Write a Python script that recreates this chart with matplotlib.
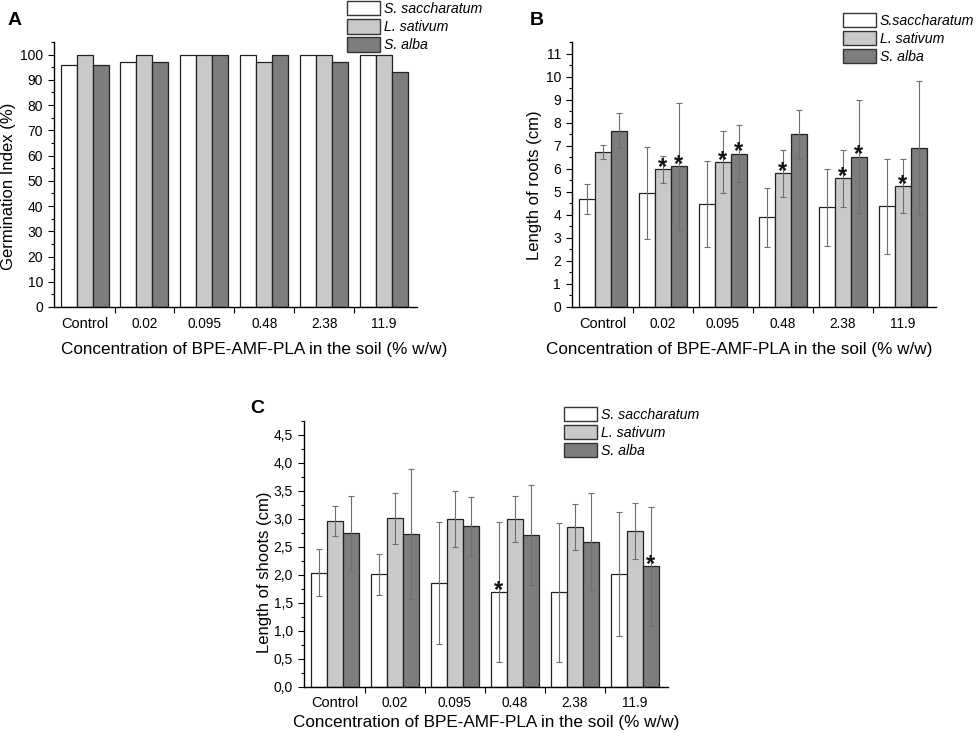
import matplotlib

matplotlib.use("Agg")

import matplotlib.pyplot as plt
import numpy as np
from matplotlib.patches import Patch
from matplotlib.ticker import FixedLocator, FuncFormatter, MultipleLocator
from matplotlib.transforms import offset_copy

plt.rcParams["font.family"] = ["Liberation Sans", "DejaVu Sans"]

groups = ["Control", "0.02", "0.095", "0.48", "2.38", "11.9"]
species = ["S. saccharatum", "L. sativum", "S. alba"]
species_b = ["S.saccharatum", "L. sativum", "S. alba"]

# A: germination index (%)
germ_ss = [96, 97, 100, 100, 100, 100]
germ_ls = [100, 100, 100, 97, 100, 100]
germ_sa = [96, 97, 100, 100, 97, 93]

# B: root length (cm) with SD
root_ss = [4.70, 4.93, 4.47, 3.89, 4.32, 4.37]
root_ss_err = [0.65, 2.00, 1.85, 1.28, 1.68, 2.07]
root_ls = [6.71, 5.97, 6.29, 5.80, 5.58, 5.25]
root_ls_err = [0.30, 0.60, 1.35, 1.03, 1.23, 1.18]
root_sa = [7.65, 6.11, 6.66, 7.49, 6.52, 6.91]
root_sa_err = [0.77, 2.75, 1.23, 1.05, 2.46, 2.89]
root_sig = [[0, 0, 0, 0, 0, 0], [0, 1, 1, 1, 1, 1], [0, 1, 1, 0, 1, 0]]

# C: shoot length (cm) with SD
shoot_ss = [2.04, 2.01, 1.85, 1.69, 1.69, 2.01]
shoot_ss_err = [0.42, 0.37, 1.09, 1.25, 1.24, 1.11]
shoot_ls = [2.96, 3.01, 3.00, 3.00, 2.86, 2.79]
shoot_ls_err = [0.27, 0.46, 0.50, 0.41, 0.41, 0.50]
shoot_sa = [2.74, 2.73, 2.87, 2.71, 2.59, 2.15]
shoot_sa_err = [0.67, 1.17, 0.53, 0.89, 0.87, 1.07]
shoot_sig = [[0, 0, 0, 1, 0, 0], [0, 0, 0, 0, 0, 0], [0, 0, 0, 0, 0, 1]]

FILLS = ["white", "#c9c9c9", "#7d7d7d"]
XLABEL = "Concentration of BPE-AMF-PLA in the soil (% w/w)"
W = 0.8 / 3


def draw_panel(ax, values, errs, sigs, ymax, major, minor, fmt):
    x = np.arange(len(groups))
    # baseline of the '*' sits a little under the bar top so the glyph floats just above it
    star_tr = offset_copy(ax.transData, fig=ax.figure, y=-4.5, units="dots")
    for i, vals in enumerate(values):
        pos = x + (i - 1) * W
        ax.bar(pos, vals, W, color=FILLS[i], edgecolor="#222222", linewidth=0.9, zorder=2)
        if errs is not None:
            ax.errorbar(pos, vals, yerr=errs[i], fmt="none", ecolor="#6e6e6e",
                        elinewidth=0.8, capsize=2.5, capthick=0.8, zorder=3)
        if sigs is not None:
            for p, v, s in zip(pos, vals, sigs[i]):
                if s:
                    ax.text(p, v, "*", transform=star_tr, ha="center", va="baseline",
                            fontsize=17, fontweight="bold", color="#111111", zorder=4)
    ax.set_xlim(-0.51, 5.55)
    ax.set_ylim(0, ymax)
    ax.spines[["top", "right"]].set_visible(False)
    for s in ("left", "bottom"):
        ax.spines[s].set_linewidth(1.0)
    ax.set_xticks(x)
    ax.set_xticklabels(groups, fontsize=9.8)
    ax.get_xticklabels()[0].set_fontsize(10.5)
    ax.xaxis.set_minor_locator(FixedLocator(np.arange(0.5, 5.0, 1.0)))
    ax.tick_params(axis="x", which="major", length=0, pad=7)
    ax.tick_params(axis="x", which="minor", length=4, width=0.8, direction="out")
    ax.yaxis.set_major_locator(MultipleLocator(major))
    ax.yaxis.set_minor_locator(MultipleLocator(minor))
    ax.yaxis.set_major_formatter(FuncFormatter(fmt))
    ax.tick_params(axis="y", which="major", length=4.5, width=0.8, labelsize=10)
    ax.tick_params(axis="y", which="minor", length=2.5, width=0.8)


def add_legend(ax, labels, anchor):
    handles = [Patch(facecolor=c, edgecolor="#333333", linewidth=1.0) for c in FILLS]
    leg = ax.legend(handles, labels, loc="upper left", bbox_to_anchor=anchor,
                    frameon=False, borderpad=0, borderaxespad=0, handlelength=2.3,
                    handleheight=1.2, labelspacing=0.22, handletextpad=0.3,
                    prop={"style": "italic", "size": 10.2})
    return leg


fig = plt.figure(figsize=(9.76, 7.33), dpi=100)
axA = fig.add_axes([54 / 976, 1 - 307 / 733, 363 / 976, 265 / 733])
axB = fig.add_axes([572 / 976, 1 - 307 / 733, 364 / 976, 265 / 733])
axC = fig.add_axes([304 / 976, 1 - 686.7 / 733, 364 / 976, 265.7 / 733])

draw_panel(axA, [germ_ss, germ_ls, germ_sa], None, None, 105, 10, 5,
           lambda v, _: f"{v:.0f}")
draw_panel(axB, [root_ss, root_ls, root_sa], [root_ss_err, root_ls_err, root_sa_err],
           root_sig, 11.5, 1, 0.5, lambda v, _: f"{v:.0f}")
draw_panel(axC, [shoot_ss, shoot_ls, shoot_sa], [shoot_ss_err, shoot_ls_err, shoot_sa_err],
           shoot_sig, 4.75, 0.5, 0.25, lambda v, _: f"{v:.1f}".replace(".", ","))

add_legend(axA, species, (0.807, 1.155))
add_legend(axB, species_b, (0.745, 1.111))
add_legend(axC, species, (0.715, 1.054))

# panel letters
for label, px, py in (("A", 8, 25), ("B", 530, 25), ("C", 250, 413)):
    fig.text(px / 976, 1 - py / 733, label, fontsize=14, fontweight="bold", va="baseline")

# axis titles
fig.text(9 / 976, 1 - 186 / 733, "Germination Index (%)", rotation=90,
         ha="center", va="center", fontsize=12)
fig.text(535 / 976, 1 - 185 / 733, "Length of roots (cm)", rotation=90,
         ha="center", va="center", fontsize=12)
fig.text(265 / 976, 1 - 572 / 733, "Length of shoots (cm)", rotation=90,
         ha="center", va="center", fontsize=12)
fig.text(254 / 976, 1 - 350 / 733, XLABEL, ha="center", va="center", fontsize=12.3)
fig.text(739 / 976, 1 - 350 / 733, XLABEL, ha="center", va="center", fontsize=12.3)
fig.text(486 / 976, 1 - 722 / 733, XLABEL, ha="center", va="center", fontsize=12.3)

fig.savefig("out.png", dpi=100)
